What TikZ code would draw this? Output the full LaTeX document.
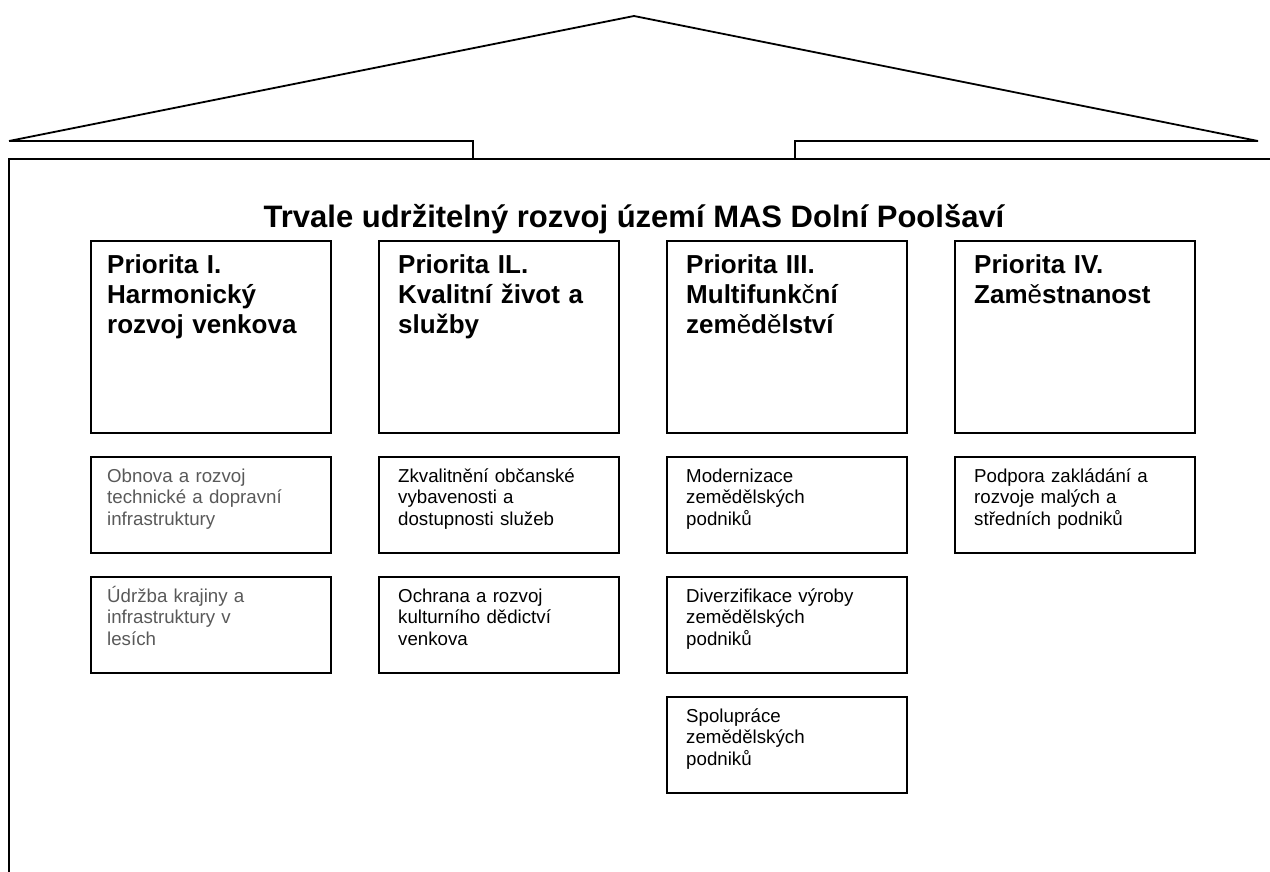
\documentclass[tikz,border=0pt]{standalone}
\usepackage{fontspec}
\setmainfont{Liberation Sans}
\usetikzlibrary{calc}
% letters that fall back to the regular weight inside the bold headings
\newcommand*\lite[1]{{\mdseries #1}}
\tikzset{
  house/.style={line width=1.8pt, line join=miter},
  priobox/.style={draw, line width=1.6pt, anchor=north west, inner sep=0pt,
    minimum width=240pt, minimum height=192pt},
  measbox/.style={draw, line width=1.6pt, anchor=north west, inner sep=0pt,
    minimum width=240pt, minimum height=96pt},
  priotext/.style={anchor=base west, inner sep=0pt, text width=215pt, align=left,
    font=\bfseries\fontsize{26}{30}\selectfont},
  meastext/.style={anchor=base west, inner sep=0pt, text width=215pt, align=left,
    font=\fontsize{18.7}{21.5}\selectfont},
}

\begin{document}
\begin{tikzpicture}[x=1pt,y=-1pt]
\useasboundingbox (0,0) rectangle (1270,872);
%roof
\draw [house] (9,141) -- (634,16) -- (1258,141) -- (795,141) -- (795,159);
\draw [house] (9,141) -- (473,141) -- (473,159);
%house
\draw [house,line width=2.2pt] (1270,159) -- (9,159) -- (9,872);
%
\node [anchor=base, inner sep=0pt, font=\bfseries\fontsize{31}{36}\selectfont] (title) at (634,227)
  {Trvale udržitelný rozvoj území MAS Dolní Poolšaví};
%
% priorities
\node [priobox] (p1) at (90,240) {};
\node [priobox] (p2) at (378,240) {};
\node [priobox] (p3) at (666,240) {};
\node [priobox] (p4) at (954,240) {};
\node [priotext] (p1t) at ([shift={(17,33)}]p1.north west) {Priorita I.\\ Harmonický\\ rozvoj venkova};
\node [priotext] (p2t) at ([shift={(20,33)}]p2.north west) {Priorita IL.\\ Kvalitní život a\\ služby};
\node [priotext] (p3t) at ([shift={(20,33)}]p3.north west) {Priorita III.\\ Multifunk\lite{č}ní\\ zem\lite{ě}d\lite{ě}lství};
\node [priotext] (p4t) at ([shift={(20,33)}]p4.north west) {Priorita IV.\\ Zam\lite{ě}stnanost};
%
% measures
\node [measbox] (m11) at (90,456) {};
\node [measbox] (m12) at (90,576) {};
\node [meastext,black!65] (m11t) at ([shift={(17,26)}]m11.north west) {Obnova a rozvoj\\ technické a dopravní\\ infrastruktury};
\node [meastext,black!65] (m12t) at ([shift={(17,26)}]m12.north west) {Údržba krajiny a\\ infrastruktury v\\ lesích};
%
\node [measbox] (m21) at (378,456) {};
\node [measbox] (m22) at (378,576) {};
\node [meastext] (m21t) at ([shift={(20,26)}]m21.north west) {Zkvalitnění občanské\\ vybavenosti a\\ dostupnosti služeb};
\node [meastext] (m22t) at ([shift={(20,26)}]m22.north west) {Ochrana a rozvoj\\ kulturního dědictví\\ venkova};
%
\node [measbox] (m31) at (666,456) {};
\node [measbox] (m32) at (666,576) {};
\node [measbox] (m33) at (666,696) {};
\node [meastext] (m31t) at ([shift={(20,26)}]m31.north west) {Modernizace\\ zemědělských\\ podniků};
\node [meastext] (m32t) at ([shift={(20,26)}]m32.north west) {Diverzifikace výroby\\ zemědělských\\ podniků};
\node [meastext] (m33t) at ([shift={(20,26)}]m33.north west) {Spolupráce\\ zemědělských\\ podniků};
%
\node [measbox] (m41) at (954,456) {};
\node [meastext] (m41t) at ([shift={(20,26)}]m41.north west) {Podpora zakládání a\\ rozvoje malých a\\ středních podniků};
\end{tikzpicture}
\end{document}
